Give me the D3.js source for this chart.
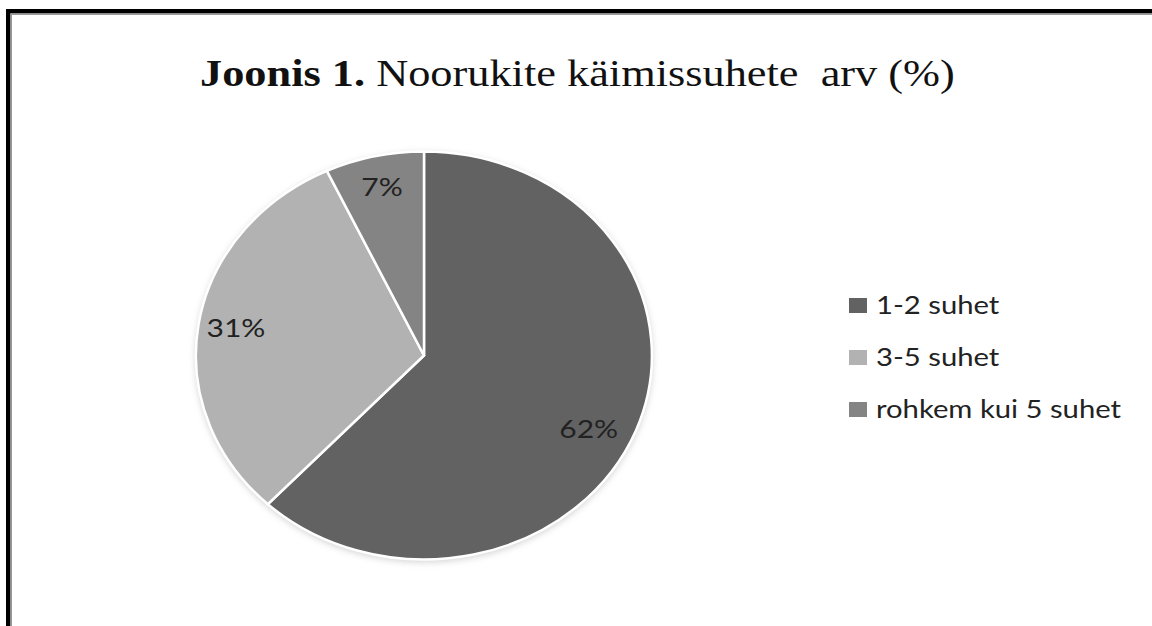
<!DOCTYPE html>
<html><head><meta charset="utf-8">
<script src="https://cdn.jsdelivr.net/npm/d3@7"></script>
<style>
html,body{margin:0;padding:0;background:#fff;}
svg{display:block;}
</style></head>
<body>
<script>
const categories = ["1-2 suhet", "3-5 suhet", "rohkem kui 5 suhet"];
const values = [62, 31, 7];
const labels = ["62%", "31%", "7%"];
const colors = ["#626262", "#b2b2b2", "#848484"];
const titleBold = "Joonis 1.";
const titleRest = " Noorukite käimissuhete  arv (%)";

const W = 1152, H = 626;
const svg = d3.select("body").append("svg").attr("width", W).attr("height", H);
svg.append("rect").attr("width", W).attr("height", H).attr("fill", "#fff");

const defs = svg.append("defs");
const f = defs.append("filter").attr("id", "shadow").attr("x", "-10%").attr("y", "-10%").attr("width", "120%").attr("height", "120%");
f.append("feGaussianBlur").attr("stdDeviation", 3);

// frame
svg.append("rect").attr("x", 6).attr("y", 9).attr("width", W).attr("height", 4.5).attr("fill", "#000");
svg.append("rect").attr("x", 6).attr("y", 9).attr("width", 4.5).attr("height", H).attr("fill", "#000");
svg.append("rect").attr("x", 10.5).attr("y", 13.5).attr("width", W).attr("height", 1.5).attr("fill", "#9a9a9a");
svg.append("rect").attr("x", 10.5).attr("y", 13.5).attr("width", 1.5).attr("height", H).attr("fill", "#9a9a9a");

// title
const title = svg.append("text")
  .attr("x", 0).attr("y", 0)
  .attr("font-family", "Liberation Serif, Times New Roman, serif")
  .attr("font-size", 37).attr("fill", "#111")
  .style("white-space", "pre");
title.append("tspan").attr("font-weight", "bold").text(titleBold);
title.append("tspan").text(titleRest);
const tw = title.node().getComputedTextLength();
const targetW = 755;
title.attr("transform", `translate(200,86) scale(${targetW / tw},1)`);

// pie
const cx = 424, cy = 355.5, rx = 228, ry = 204;
svg.append("ellipse").attr("cx", cx).attr("cy", cy + 2).attr("rx", rx + 1).attr("ry", ry + 1)
  .attr("fill", "#bbb").attr("filter", "url(#shadow)").attr("opacity", 0.6);
const pie = d3.pie().sort(null).value(d => d)(values);
const arc = d3.arc().innerRadius(0).outerRadius(1);
const g = svg.append("g").attr("transform", `translate(${cx},${cy}) scale(${rx},${ry})`);
g.selectAll("path").data(pie).join("path")
  .attr("d", arc)
  .attr("fill", (d, i) => colors[i])
  .attr("stroke", "#fff")
  .attr("stroke-width", 2.5)
  .attr("vector-effect", "non-scaling-stroke");

// labels
const sx = 1.2;
const labelRadii = [0.81, 0.835, 0.845];
const nudge = [[-7, 12], [0, -1], [0, -1]];
svg.append("g").selectAll("text").data(pie).join("text")
  .attr("transform", (d, i) => {
    const c = d3.arc().innerRadius(labelRadii[i]).outerRadius(labelRadii[i]).centroid(d);
    return `translate(${cx + c[0] * rx + nudge[i][0]},${cy + c[1] * ry + nudge[i][1]}) scale(${sx},1)`;
  })
  .attr("text-anchor", "middle").attr("dominant-baseline", "central")
  .attr("font-family", "Lato, Open Sans, sans-serif").attr("font-size", 25).attr("fill", "#222")
  .text((d, i) => labels[i]);

// legend
const leg = svg.append("g");
const rows = leg.selectAll("g").data(categories).join("g")
  .attr("transform", (d, i) => `translate(849,${298 + i * 52})`);
rows.append("rect").attr("width", 18).attr("height", 15).attr("fill", (d, i) => colors[i]);
rows.append("text").attr("transform", `translate(27,16) scale(1.17,1)`)
  .attr("font-family", "Lato, Open Sans, sans-serif").attr("font-size", 25).attr("fill", "#222")
  .text(d => d);
</script>
</body></html>
